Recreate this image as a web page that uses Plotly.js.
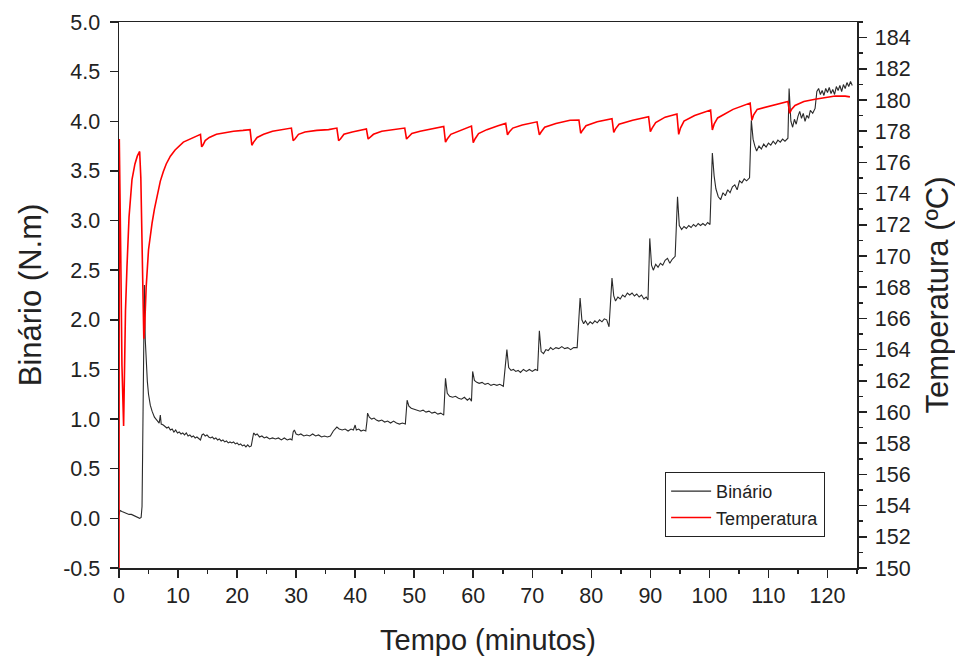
<!DOCTYPE html>
<html>
<head>
<meta charset="utf-8">
<script src="https://cdn.plot.ly/plotly-3.0.1.min.js"></script>
<style>html,body{margin:0;padding:0;background:#fff;}#chart{width:955px;height:656px;}</style>
</head>
<body>
<div id="chart"></div>
<script>
// Binário (N.m) vs Tempo (minutos)
const tempoB = [0,0.15,0.5,0.9,1.3,1.7,2.1,2.5,2.9,3.2,3.5,3.75,3.9,4.0,4.1,4.2,4.3,4.35,4.45,4.6,4.8,5.0,5.3,5.6,6.0,6.4,6.8,7.0,7.15,7.5,7.8,8.1,8.4,8.7,9.0,9.3,9.6,9.9,10.2,10.5,10.8,11.1,11.4,11.7,12.0,12.3,12.6,12.9,13.2,13.5,13.8,14.05,14.3,14.6,14.9,15.2,15.5,15.8,16.1,16.4,16.7,17.0,17.3,17.6,17.9,18.2,18.5,18.8,19.1,19.4,19.7,20.0,20.3,20.6,20.9,21.2,21.5,21.8,22.1,22.4,22.6,22.8,23.1,23.4,23.8,24.2,24.6,25.0,25.5,26.0,26.5,27.0,27.5,28.0,28.5,29.0,29.3,29.5,29.7,30.0,30.4,30.8,31.3,31.8,32.3,32.8,33.3,33.8,34.3,34.8,35.3,35.8,36.3,36.6,36.9,37.3,37.8,38.3,38.8,39.3,39.7,40.0,40.2,40.6,41.0,41.4,41.8,42.0,42.1,42.4,42.8,43.2,43.6,44.0,44.5,45.0,45.5,46.0,46.5,47.0,47.5,48.0,48.5,48.8,49.1,49.5,50.0,50.5,51.0,51.5,52.0,52.5,53.0,53.5,54.0,54.5,55.0,55.3,55.6,56.0,56.5,57.0,57.5,58.0,58.5,59.0,59.4,59.7,59.9,60.2,60.6,61.0,61.5,62.0,62.5,63.0,63.5,64.0,64.5,65.1,65.7,66.0,66.4,66.8,67.2,67.6,68.0,68.5,69.0,69.5,70.0,70.5,70.9,71.2,71.5,71.9,72.3,72.7,73.1,73.5,74.0,74.5,75.0,75.5,76.0,76.5,77.0,77.6,78.1,78.4,78.7,79.0,79.4,79.8,80.2,80.6,81.0,81.4,81.8,82.2,82.6,83.0,83.5,83.8,84.1,84.5,84.9,85.3,85.7,86.1,86.5,86.9,87.3,87.7,88.1,88.5,88.9,89.3,89.6,89.9,90.2,90.5,90.9,91.3,91.7,92.1,92.5,92.9,93.3,93.7,94.2,94.6,94.9,95.3,95.7,96.1,96.5,96.9,97.3,97.7,98.1,98.5,98.9,99.3,99.7,100.1,100.5,100.8,101.1,101.5,101.9,102.3,102.7,103.1,103.5,103.9,104.3,104.7,105.1,105.5,105.9,106.3,106.8,107.1,107.4,107.7,108.0,108.4,108.8,109.2,109.6,110.0,110.4,110.8,111.2,111.6,112.0,112.4,112.8,113.3,113.5,113.8,114.1,114.4,114.7,115.0,115.3,115.6,115.9,116.2,116.5,116.8,117.1,117.5,117.9,118.2,118.5,118.8,119.1,119.4,119.7,120.0,120.3,120.6,120.9,121.2,121.5,121.8,122.1,122.4,122.7,123.0,123.3,123.6,123.9,124.2];
const binario = [0.03,0.08,0.07,0.06,0.05,0.04,0.04,0.03,0.02,0.01,0.00,0.01,0.12,0.65,1.3,1.85,2.35,2.1,1.8,1.55,1.38,1.25,1.14,1.08,1.02,0.99,0.96,1.04,0.95,0.94,0.92,0.91,0.92,0.89,0.90,0.87,0.89,0.86,0.87,0.85,0.86,0.84,0.86,0.83,0.84,0.82,0.83,0.81,0.82,0.80,0.79,0.84,0.85,0.83,0.84,0.82,0.81,0.82,0.80,0.81,0.79,0.80,0.78,0.79,0.77,0.78,0.76,0.77,0.76,0.77,0.75,0.76,0.74,0.75,0.73,0.74,0.72,0.74,0.72,0.73,0.82,0.86,0.84,0.85,0.82,0.83,0.81,0.82,0.80,0.81,0.80,0.81,0.79,0.81,0.79,0.80,0.79,0.87,0.89,0.85,0.84,0.85,0.83,0.84,0.83,0.85,0.83,0.84,0.82,0.83,0.82,0.83,0.88,0.90,0.92,0.90,0.89,0.90,0.88,0.90,0.89,0.94,0.89,0.90,0.88,0.89,0.88,0.98,1.06,1.02,1.00,1.01,0.99,0.98,0.99,0.97,0.98,0.96,0.98,0.96,0.95,0.96,0.95,1.19,1.13,1.11,1.10,1.09,1.08,1.09,1.07,1.08,1.06,1.07,1.05,1.06,1.04,1.41,1.26,1.23,1.22,1.23,1.21,1.20,1.22,1.19,1.21,1.18,1.48,1.39,1.37,1.36,1.37,1.35,1.36,1.34,1.35,1.34,1.35,1.33,1.70,1.52,1.49,1.50,1.48,1.49,1.47,1.50,1.48,1.50,1.48,1.50,1.49,1.89,1.68,1.66,1.70,1.69,1.72,1.70,1.72,1.71,1.73,1.71,1.72,1.70,1.72,1.72,2.22,2.00,1.96,1.99,1.95,1.98,1.96,1.99,1.97,2.00,1.98,2.01,2.00,1.93,2.42,2.24,2.19,2.23,2.21,2.25,2.23,2.27,2.25,2.27,2.24,2.26,2.23,2.25,2.21,2.23,2.20,2.82,2.55,2.50,2.56,2.53,2.57,2.55,2.60,2.62,2.57,2.61,2.64,3.24,2.95,2.91,2.94,2.92,2.95,2.93,2.96,2.94,2.97,2.95,2.97,2.95,2.98,2.96,3.68,3.45,3.32,3.24,3.21,3.28,3.25,3.31,3.28,3.34,3.36,3.31,3.40,3.38,3.42,3.40,3.43,4.01,3.82,3.75,3.70,3.75,3.72,3.77,3.74,3.78,3.76,3.80,3.77,3.81,3.79,3.82,3.80,3.83,4.33,4.00,3.94,4.02,3.97,4.05,4.10,4.03,4.08,4.00,4.06,4.03,4.11,4.08,4.13,4.30,4.33,4.27,4.31,4.26,4.33,4.29,4.34,4.28,4.32,4.27,4.35,4.31,4.36,4.30,4.37,4.33,4.39,4.35,4.40,4.36];

// Temperatura (ºC) vs Tempo (minutos)
const tempoT = [0,0.05,0.3,0.5,0.78,0.95,1.1,1.35,1.7,2.2,2.7,3.1,3.5,3.7,3.9,4.05,4.2,4.35,4.6,5.0,5.3,5.6,6.0,6.5,7.0,7.5,8.0,8.7,9.5,10.9,12.0,13.0,13.8,14.0,14.2,14.6,15.3,16.5,18.0,19.4,21.0,22.2,22.5,22.8,23.4,24.5,26.0,28.0,29.2,29.5,29.8,30.4,31.5,33.5,35.5,36.9,37.2,37.5,38.1,39.5,41.9,42.2,42.5,43.1,44.5,46.5,48.4,48.7,49.0,49.6,51.0,53.0,55.0,55.3,55.6,56.2,57.5,59.7,60.0,60.3,60.9,62.3,64.2,65.5,65.8,66.1,66.7,68.3,70.8,71.2,71.5,72.1,74.0,76.4,77.9,78.2,78.5,79.1,81.0,83.5,83.8,84.1,84.7,87.0,89.7,90.0,90.3,90.9,92.5,94.5,94.8,95.1,95.7,97.5,100.2,100.5,100.8,101.4,104.0,106.9,107.2,107.5,108.1,110.0,113.3,113.6,113.9,114.5,116.0,117.9,120.0,121.3,123.0,123.8];
const temperatura = [148,177.5,170,163,159.1,163,166.5,169.3,172.5,174.9,175.9,176.4,176.7,175,171,167.5,164.7,165.5,168,170.4,171.3,172.1,173.0,174.0,174.8,175.4,175.9,176.4,176.8,177.3,177.5,177.7,177.8,177.0,177.1,177.4,177.6,177.8,177.9,178.0,178.05,178.1,177.1,177.3,177.6,177.8,178.0,178.1,178.2,177.4,177.5,177.8,177.95,178.05,178.1,178.2,177.4,177.5,177.8,177.95,178.15,177.5,177.6,177.8,178.0,178.1,178.2,177.5,177.6,177.85,178.0,178.15,178.3,177.3,177.5,177.8,178.0,178.33,177.26,177.5,177.85,178.1,178.35,178.5,177.76,177.95,178.2,178.4,178.6,177.76,177.95,178.25,178.5,178.7,178.72,177.87,178.05,178.35,178.6,178.8,177.93,178.15,178.45,178.7,178.93,177.97,178.2,178.55,178.9,179.1,177.8,178.2,178.65,179.0,179.36,178.08,178.45,178.85,179.4,179.8,178.7,179.05,179.4,179.6,179.9,179.15,179.4,179.65,179.9,180.05,180.2,180.26,180.25,180.2];

const yTicks = [-0.5,0,0.5,1,1.5,2,2.5,3,3.5,4,4.5,5];
const yTickText = ['-0.5','0.0','0.5','1.0','1.5','2.0','2.5','3.0','3.5','4.0','4.5','5.0'];

const FONT = 'Liberation Sans, Arial, sans-serif';
const AX = '#222';
const TICKSIZE = 21.5;
const TITLESIZE = 29;
const VTITLESIZE = 31;

const traces = [
  {x: tempoB, y: binario, name: 'Binário', type: 'scatter', mode: 'lines',
   line: {color: '#2a2a2a', width: 1.1}},
  {x: tempoT, y: temperatura, name: 'Temperatura', type: 'scatter', mode: 'lines',
   yaxis: 'y2', line: {color: '#ff0000', width: 1.6}}
];

const layout = {
  width: 955, height: 656,
  margin: {l: 119, r: 98, t: 22, b: 88},
  paper_bgcolor: '#fff', plot_bgcolor: '#fff',
  font: {family: FONT, color: AX, size: TICKSIZE},
  showlegend: true,
  legend: {x: 0.74, y: 0.176, xanchor: 'left', yanchor: 'top',
    bordercolor: '#222', borderwidth: 1, bgcolor: '#fff', itemwidth: 40,
    font: {family: FONT, size: 18, color: AX}, tracegroupgap: 0},
  xaxis: {range: [0, 125], dtick: 10, tick0: 0, showgrid: false, zeroline: false,
    showline: true, linecolor: AX, linewidth: 1.5, mirror: true,
    ticks: 'outside', ticklen: 8, tickwidth: 1.5, tickcolor: AX,
    minor: {dtick: 5, ticks: 'outside', ticklen: 4, tickwidth: 1.5, tickcolor: AX},
    tickfont: {size: TICKSIZE, family: FONT, color: AX},
    title: {text: 'Tempo (minutos)', font: {size: TITLESIZE, family: FONT, color: AX}, standoff: 22}},
  yaxis: {range: [-0.5, 5.0], tickvals: yTicks, ticktext: yTickText, showgrid: false, zeroline: false,
    showline: true, linecolor: AX, linewidth: 1.5,
    ticks: 'outside', ticklen: 8, tickwidth: 1.5, tickcolor: AX, ticklabelstandoff: 5,
    tickfont: {size: TICKSIZE, family: FONT, color: AX},
    title: {text: 'Binário (N.m)', font: {size: VTITLESIZE, family: FONT, color: AX}, standoff: 12}},
  yaxis2: {range: [150, 185], dtick: 2, tick0: 150, overlaying: 'y', side: 'right',
    showgrid: false, zeroline: false, showline: true, linecolor: AX, linewidth: 1.5,
    ticks: 'outside', ticklen: 8, tickwidth: 1.5, tickcolor: AX, ticklabelstandoff: 4,
    minor: {dtick: 1, ticks: 'outside', ticklen: 4, tickwidth: 1.5, tickcolor: AX},
    tickfont: {size: TICKSIZE, family: FONT, color: AX},
    title: {text: 'Temperatura (ºC)', font: {size: VTITLESIZE, family: FONT, color: AX}, standoff: 16}}
};

Plotly.newPlot('chart', traces, layout, {displayModeBar: false, staticPlot: true});
</script>
</body>
</html>
